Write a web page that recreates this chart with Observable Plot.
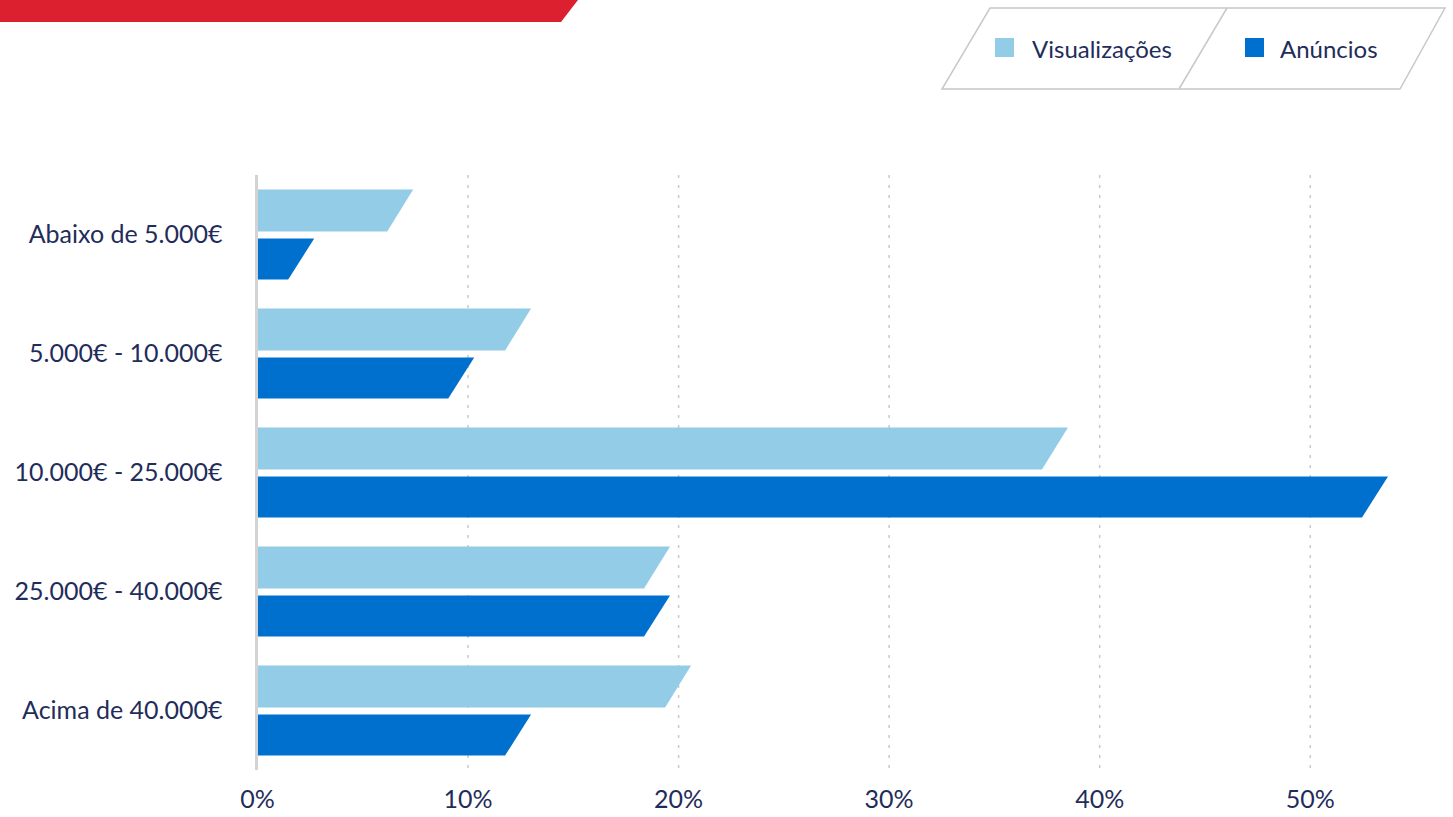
<!DOCTYPE html>
<html>
<head>
<meta charset="utf-8">
<script src="https://cdn.jsdelivr.net/npm/d3@7"></script>
<script src="https://cdn.jsdelivr.net/npm/@observablehq/plot@0.6"></script>
<style>
  html, body { margin: 0; padding: 0; background: #fff; }
  body { width: 1453px; height: 817px; overflow: hidden; font-family: Lato, "Noto Sans", sans-serif; }
  #header { position: relative; width: 1453px; height: 100px; }
  #banner { position: absolute; left: 0; top: 0; width: 578px; height: 22px; background: #dc2030;
            clip-path: polygon(0 0, 578px 0, 561px 22px, 0 22px); }
  #legend { position: absolute; left: 0; top: 0; }
  #chart svg { display: block; }
</style>
</head>
<body>
<div id="header">
  <div id="banner"></div>
  <svg id="legend" width="1453" height="100"></svg>
</div>
<div id="chart"></div>
<script>
// ---- data ----
const categories = ["Abaixo de 5.000€", "5.000€ - 10.000€", "10.000€ - 25.000€", "25.000€ - 40.000€", "Acima de 40.000€"];
const seriesNames = ["Visualizações", "Anúncios"];
const visualizacoes = [6.8, 12.4, 37.9, 19.0, 20.0];
const anuncios = [2.1, 9.7, 53.1, 19.0, 12.4];
const xTicks = [0, 10, 20, 30, 40, 50];

const colors = {"Visualizações": "#93cce6", "Anúncios": "#0070cf"};
const textColor = "#1f2d5a";

const rows = categories.flatMap((c, i) => [
  {cat: c, series: seriesNames[0], value: visualizacoes[i]},
  {cat: c, series: seriesNames[1], value: anuncios[i]}
]);

// ---- legend ----
const leg = d3.select("#legend");
leg.append("path").attr("d", "M990,8L1445,8L1400,89L942,89Z").attr("fill", "none").attr("stroke", "#c8c8c8").attr("stroke-width", 1.5);
leg.append("path").attr("d", "M1227,8L1179,89").attr("fill", "none").attr("stroke", "#c8c8c8").attr("stroke-width", 1.5);
const legItems = [{name: seriesNames[0], sx: 995, tx: 1032}, {name: seriesNames[1], sx: 1245, tx: 1280}];
legItems.forEach(d => {
  leg.append("rect").attr("x", d.sx).attr("y", 38).attr("width", 19).attr("height", 19).attr("fill", colors[d.name]);
  leg.append("text").attr("x", d.tx).attr("y", 58).attr("fill", textColor)
    .attr("font-family", "Lato, sans-serif").attr("font-size", 24).text(d.name);
});

// ---- slanted bars mark (uses Plot scales) ----
const slant = 26;
function slantedBars(index, scales) {
  const x = scales.x, y = scales.y;
  const bw = y.bandwidth();
  const g = d3.create("svg:g");
  rows.forEach(r => {
    const c = y(r.cat) + bw / 2;
    const top = r.series === seriesNames[0] ? c - 45 : c + 4;
    const bot = r.series === seriesNames[0] ? c - 3 : c + 45;
    const x0 = x(0), xv = x(r.value);
    g.append("path")
      .attr("d", `M${x0},${top}L${xv + slant / 2},${top}L${xv - slant / 2},${bot}L${x0},${bot}Z`)
      .attr("fill", colors[r.series]);
  });
  return g.node();
}

const chart = Plot.plot({
  width: 1453,
  height: 717,
  marginTop: 75,
  marginBottom: 47,
  marginLeft: 257,
  marginRight: 38,
  x: {domain: [0, 55]},
  y: {type: "band", domain: categories, padding: 0},
  style: {fontFamily: "Lato, sans-serif", fontSize: "25px", color: textColor, background: "white"},
  marks: [
    Plot.ruleX(xTicks.slice(1), {stroke: "#c8c8c8", strokeWidth: 1.5, strokeDasharray: "3,7"}),
    slantedBars,
    Plot.ruleX([0], {stroke: "#d3d3d3", strokeWidth: 3, dx: -1}),
    Plot.axisX({ticks: xTicks, tickFormat: d => d + "%", tickSize: 0, tickPadding: 20, fontSize: 25, fill: textColor}),
    Plot.axisY({ticks: categories, tickSize: 0, tickPadding: 35, fontSize: 25, fill: textColor})
  ]
});
document.getElementById("chart").appendChild(chart);
</script>
</body>
</html>
